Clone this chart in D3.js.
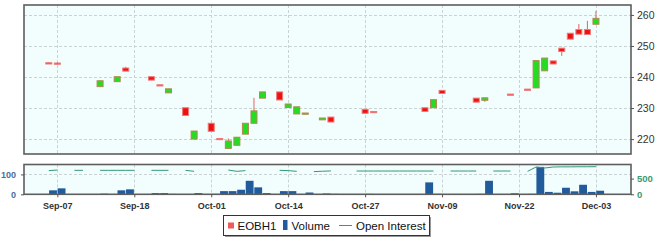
<!DOCTYPE html>
<html>
<head>
<meta charset="utf-8">
<script src="https://cdn.jsdelivr.net/npm/d3@7"></script>
<style>
  body { margin: 0; background: #fff; }
  svg { display: block; font-family: "Liberation Sans", Arial, sans-serif; }
</style>
</head>
<body>
<div id="chart"></div>
<script>
// trading-day slots, 0 = Sep-07
var days  = [-1, 0, 5, 7, 8, 11, 12, 13, 15, 16, 18, 19, 20, 21, 22, 23, 24, 26, 27, 28, 29, 31, 32,
             36, 37, 43, 44, 45, 49, 50, 53, 55, 56, 57, 58, 59, 60, 61, 62, 63];
var open  = [244.6, 244.5, 236.9, 238.5, 242.9, 240.1, 237.5, 234.9, 230.1, 220.0, 225.1, 220.2, 217.0, 218.0, 221.6, 225.1, 233.2, 235.2, 230.2, 228.1, 228.0, 226.2, 227.1,
             229.6, 228.9, 230.1, 230.1, 235.7, 233.2, 232.5, 234.5, 236.1, 236.5, 242.0, 245.2, 249.3, 254.1, 255.3, 255.3, 257.0];
var high  = [244.6, 244.8, 238.8, 240.1, 243.3, 240.1, 237.5, 236.2, 230.1, 222.6, 225.1, 220.2, 220.2, 220.6, 225.1, 233.3, 235.2, 235.2, 231.3, 230.4, 228.4, 226.8, 227.1,
             229.6, 228.9, 230.1, 232.7, 235.7, 233.2, 233.3, 234.5, 236.1, 245.3, 246.1, 245.2, 249.3, 254.1, 257.1, 258.1, 261.3];
var low   = [244.2, 244.4, 236.9, 238.5, 241.9, 239.0, 237.3, 234.9, 227.6, 220.0, 222.5, 220.0, 217.0, 218.0, 221.6, 225.1, 233.2, 232.6, 230.2, 228.1, 228.0, 226.2, 225.5,
             228.3, 228.6, 228.9, 230.1, 234.7, 231.9, 232.0, 234.3, 235.9, 236.5, 242.0, 244.2, 246.8, 252.2, 253.8, 253.7, 257.0];
var close = [244.2, 244.4, 238.8, 240.1, 241.9, 239.0, 237.3, 236.2, 227.6, 222.6, 222.5, 220.0, 219.4, 220.6, 225.1, 229.1, 235.2, 232.6, 231.3, 230.4, 228.4, 226.8, 225.5,
             228.3, 228.6, 228.9, 232.7, 234.7, 231.9, 233.3, 234.3, 235.9, 245.3, 246.1, 244.2, 248.2, 252.2, 253.8, 253.7, 258.9];

var volDays = [-1, 0, 5, 7, 8, 11, 12, 13, 15, 16, 18, 19, 20, 21, 22, 23, 24, 26, 27, 29, 31, 32,
               36, 43, 44, 49, 50, 53, 55, 56, 57, 58, 59, 60, 61, 62, 63];
var volume  = [20, 30, 3, 20, 25, 6, 6, 2, 1, 6, 2, 16, 16, 23, 68, 35, 6, 16, 16, 9, 4, 2,
               2, 60, 2, 2, 68, 5, 2, 138, 12, 8, 33, 15, 48, 12, 18];

// open interest for every slot from -1 to 63, null where not reported
var oiStart = -1;
var openInterest = [755, 774, null, 764, 764, null, 764, 764, 764, 764, 764, null, 764, 764, 764, null,
                    764, 732, null, null, null, 774, 732, 755, null, null, null, 764, 755, 732, null,
                    723, 735, 745, null, null, 742, 742, 742, 742, 742, 742, 742, 742, 742, 742, null,
                    742, 742, 742, 742, null, 742, 742, 742, null, 732, 870, 838, 870, 875, 875, 878, 878, 880];

var tickDays   = [0, 9, 18, 27, 36, 45, 54, 63];
var tickLabels = ['Sep-07', 'Sep-18', 'Oct-01', 'Oct-14', 'Oct-27', 'Nov-09', 'Nov-22', 'Dec-03'];
var priceTicks = [220, 230, 240, 250, 260];
var volTicks   = [0, 100];
var oiTicks    = [0, 500];

var svg = d3.select('#chart').append('svg')
  .attr('width', 656)
  .attr('height', 244);

var left = 24, right = 631;
var top1 = 5, bot1 = 154;
var top2 = 164.5, bot2 = 194.3;

var x = d3.scaleLinear().domain([-3.9, 67.1]).range([left, right]);
var yPrice = d3.scaleLinear().domain([215.2, 263.2]).range([bot1, top1]);
var yVol = d3.scaleLinear().domain([0, 150]).range([bot2, top2]);
var yOi = d3.scaleLinear().domain([0, 950]).range([bot2, top2]);
var slot = x(1) - x(0);

// panel backgrounds
[[top1, bot1], [top2, bot2]].forEach(function(p) {
  svg.append('rect')
    .attr('x', left).attr('y', p[0])
    .attr('width', right - left).attr('height', p[1] - p[0])
    .attr('fill', '#f2fefe');
});

// grid
function vGrid(y0, y1) {
  svg.append('g').selectAll('line').data(tickDays).join('line')
    .attr('x1', function(d) { return Math.round(x(d)) + 0.5; })
    .attr('x2', function(d) { return Math.round(x(d)) + 0.5; })
    .attr('y1', y0).attr('y2', y1)
    .attr('stroke', '#c9d3d3').attr('stroke-dasharray', '3,2');
}
vGrid(top1, bot1);
vGrid(top2, bot2);

svg.append('g').selectAll('line').data(priceTicks).join('line')
  .attr('x1', left).attr('x2', right)
  .attr('y1', function(d) { return Math.round(yPrice(d)) + 0.5; })
  .attr('y2', function(d) { return Math.round(yPrice(d)) + 0.5; })
  .attr('stroke', '#c9d3d3').attr('stroke-dasharray', '3,2');

svg.append('line')
  .attr('x1', left).attr('x2', right)
  .attr('y1', Math.round(yVol(100)) + 0.5).attr('y2', Math.round(yVol(100)) + 0.5)
  .attr('stroke', '#c9d3d3').attr('stroke-dasharray', '3,2');

// candles
var candles = days.map(function(d, i) {
  return { day: d, o: open[i], h: high[i], l: low[i], c: close[i] };
});

svg.append('g').selectAll('line').data(candles).join('line')
  .attr('x1', function(d) { return x(d.day); })
  .attr('x2', function(d) { return x(d.day); })
  .attr('y1', function(d) { return yPrice(d.h); })
  .attr('y2', function(d) { return yPrice(d.l); })
  .attr('stroke', '#e06464');

svg.append('g').selectAll('rect').data(candles).join('rect')
  .attr('x', function(d) { return x(d.day) - 3; })
  .attr('y', function(d) { return yPrice(Math.max(d.o, d.c)); })
  .attr('width', 6)
  .attr('height', function(d) { return Math.max(1.2, Math.abs(yPrice(d.o) - yPrice(d.c))); })
  .attr('fill', function(d) { return d.c > d.o ? '#22dd22' : '#ee1111'; })
  .attr('stroke', function(d) { return d.c > d.o ? '#b08a50' : '#f07a7a'; })
  .attr('stroke-width', 1);

// volume bars
svg.append('g').selectAll('rect').data(volDays).join('rect')
  .attr('x', function(d) { return x(d) + 0.3; })
  .attr('y', function(d, i) { return yVol(volume[i]); })
  .attr('width', slot - 0.7)
  .attr('height', function(d, i) { return bot2 - yVol(volume[i]); })
  .attr('fill', '#215b9b');

// open interest
var oiLine = d3.line()
  .defined(function(d) { return d !== null; })
  .x(function(d, i) { return x(oiStart + i); })
  .y(function(d) { return yOi(d); });

svg.append('path')
  .attr('d', oiLine(openInterest))
  .attr('fill', 'none')
  .attr('stroke', '#339977')
  .attr('stroke-width', 1);

// frames
svg.append('rect')
  .attr('x', left).attr('y', top1)
  .attr('width', right - left).attr('height', bot1 - top1)
  .attr('fill', 'none').attr('stroke', '#5e5e5e').attr('stroke-width', 1.6);
svg.append('rect')
  .attr('x', left).attr('y', top2)
  .attr('width', right - left).attr('height', bot2 - top2)
  .attr('fill', 'none').attr('stroke', '#5e5e5e').attr('stroke-width', 1.6);

// axes
var priceAxis = svg.append('g')
  .attr('transform', 'translate(' + right + ',0)')
  .call(d3.axisRight(yPrice).tickValues(priceTicks).tickSize(3).tickPadding(3));
priceAxis.select('.domain').remove();
priceAxis.selectAll('text').attr('font-size', 10.5).attr('fill', '#333').attr('font-family', null);
priceAxis.selectAll('line').attr('stroke', '#555');

var volAxis = svg.append('g')
  .attr('transform', 'translate(' + left + ',0)')
  .call(d3.axisLeft(yVol).tickValues(volTicks).tickSize(3).tickPadding(5));
volAxis.select('.domain').remove();
volAxis.selectAll('text').attr('font-size', 9).attr('font-weight', 'bold').attr('fill', '#4a6f9e').attr('font-family', null);
volAxis.selectAll('line').attr('stroke', '#555');

var oiAxis = svg.append('g')
  .attr('transform', 'translate(' + right + ',0)')
  .call(d3.axisRight(yOi).tickValues(oiTicks).tickSize(3).tickPadding(3));
oiAxis.select('.domain').remove();
oiAxis.selectAll('text').attr('font-size', 9.5).attr('font-weight', 'bold').attr('fill', '#3a9a70').attr('font-family', null);
oiAxis.selectAll('line').attr('stroke', '#555');

var xAxis = svg.append('g')
  .attr('transform', 'translate(0,' + bot2 + ')')
  .call(d3.axisBottom(x).tickValues(tickDays).tickSize(3).tickPadding(5)
    .tickFormat(function(d, i) { return tickLabels[i]; }));
xAxis.select('.domain').remove();
xAxis.selectAll('text').attr('font-size', 9).attr('font-weight', 'bold').attr('fill', '#333').attr('font-family', null);
xAxis.selectAll('line').attr('stroke', '#555');

// legend
var lg = svg.append('g');
lg.append('rect')
  .attr('x', 225).attr('y', 217).attr('width', 206).attr('height', 20)
  .attr('fill', '#999');
lg.append('rect')
  .attr('x', 223.5).attr('y', 215.5).attr('width', 206).attr('height', 20)
  .attr('fill', '#fff').attr('stroke', '#333');
lg.append('rect')
  .attr('x', 228).attr('y', 222.5).attr('width', 6).attr('height', 6)
  .attr('fill', '#ef5a5a');
lg.append('text').attr('x', 237.5).attr('y', 229.8).attr('font-size', 11.5).attr('fill', '#111').text('EOBH1');
lg.append('rect')
  .attr('x', 283).attr('y', 220).attr('width', 4.5).attr('height', 10)
  .attr('fill', '#215b9b');
lg.append('text').attr('x', 291.5).attr('y', 229.8).attr('font-size', 11.5).attr('fill', '#111').text('Volume');
lg.append('line')
  .attr('x1', 339).attr('x2', 352).attr('y1', 225.5).attr('y2', 225.5)
  .attr('stroke', '#339977');
lg.append('text').attr('x', 356).attr('y', 229.8).attr('font-size', 11.5).attr('fill', '#111').text('Open Interest');
</script>
</body>
</html>
